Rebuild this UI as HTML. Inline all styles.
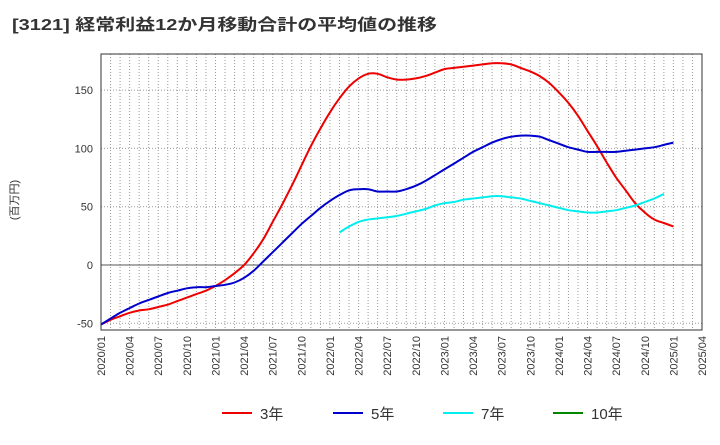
<!DOCTYPE html>
<html><head><meta charset="utf-8"><style>
body{margin:0;background:#fff;font-family:"Liberation Sans","Noto Sans CJK JP",sans-serif;}
svg text{font-family:"Liberation Sans","Noto Sans CJK JP",sans-serif;}
</style></head><body>
<svg id="c" width="720" height="440" xmlns="http://www.w3.org/2000/svg">
<text x="12" y="30" font-size="16" font-weight="bold" fill="#333" textLength="425" lengthAdjust="spacingAndGlyphs">[3121]  経常利益12か月移動合計の平均値の推移</text>
<text transform="translate(18,200) rotate(-90)" text-anchor="middle" font-size="11" fill="#333">(百万円)</text>
<g id="grid"></g><g id="series"></g><g id="axes"></g><g id="legend"></g>
</svg>
<script>
const yTicks=[-50,0,50,100,150];
const xTickLabels=["2020/01","2020/04","2020/07","2020/10","2021/01","2021/04","2021/07","2021/10","2022/01","2022/04","2022/07","2022/10","2023/01","2023/04","2023/07","2023/10","2024/01","2024/04","2024/07","2024/10","2025/01","2025/04"];
const s3=[-51,-47,-44,-41,-39,-38,-36,-34,-31,-28,-25,-22,-18,-13,-7,0,10,22,37,52,68,85,102,117,131,143,153,160,164,164,161,159,159,160,162,165,168,169,170,171,172,173,173,172,169,166,162,156,148,139,128,115,102,88,75,64,53,45,39,36,33];
const s5=[-51,-46,-41,-37,-33,-30,-27,-24,-22,-20,-19,-19,-18,-17,-15,-11,-5,3,11,19,27,35,42,49,55,60,64,65,65,63,63,63,65,68,72,77,82,87,92,97,101,105,108,110,111,111,110,107,104,101,99,97,97,97,97,98,99,100,101,103,105];
const s7start=25;
const s7=[28,33,37,39,40,41,42,44,46,48,51,53,54,56,57,58,59,59,58,57,55,53,51,49,47,46,45,45,46,47,49,51,54,57,61,61];
const L=101,R=702,T=54,B=330,NM=63;
const X=m=>L+(R-L)*m/NM;
const Y=v=>265-v*(58.3/50);
const NS="http://www.w3.org/2000/svg";
function mk(tag,attrs,parent,txt){const e=document.createElementNS(NS,tag);for(const k in attrs)e.setAttribute(k,attrs[k]);if(txt!==undefined)e.textContent=txt;document.getElementById(parent).appendChild(e);return e;}
for(let m=1;m<NM;m++){const g=mk('line',{x1:X(m),x2:X(m),y1:T,y2:B,stroke:'#999','stroke-dasharray':'1,2','stroke-width':1},'grid');

}
yTicks.forEach(v=>{const g=mk('line',{x1:L,x2:R,y1:Y(v),y2:Y(v),stroke:v===0?'#555':'#999','stroke-dasharray':v===0?'':'1,2','stroke-width':1},'grid');


const t=mk('text',{x:L-8,y:Y(v)+4,'text-anchor':'end','font-size':11,fill:'#333'},'axes',String(v));

});
xTickLabels.forEach((lab,i)=>{const x=X(i*3);const t=mk('text',{transform:`translate(${x+4},336) rotate(-90)`,'text-anchor':'end','font-size':11,fill:'#333'},'axes',lab);

});
const fr=mk('rect',{x:L,y:T,width:R-L,height:B-T,fill:'none',stroke:'#333','stroke-width':1},'axes');


function line(data,start,color,name){
const pts=data.map((v,i)=>[X(start+i),Y(v)]);
let d='M'+pts[0][0].toFixed(1)+','+pts[0][1].toFixed(1);
for(let i=0;i<pts.length-1;i++){const p0=pts[Math.max(0,i-1)],p1=pts[i],p2=pts[i+1],p3=pts[Math.min(pts.length-1,i+2)];
const c1=[p1[0]+(p2[0]-p0[0])/6,p1[1]+(p2[1]-p0[1])/6],c2=[p2[0]-(p3[0]-p1[0])/6,p2[1]-(p3[1]-p1[1])/6];
d+='C'+c1.map(n=>n.toFixed(1)).join(',')+' '+c2.map(n=>n.toFixed(1)).join(',')+' '+p2.map(n=>n.toFixed(1)).join(',');}
const p=mk('path',{d:d,fill:'none',stroke:color,'stroke-width':2},'series');

}
line(s3,0,'#e00','series-3y');
line(s5,0,'#00c','series-5y');
line(s7.slice(0,35),s7start,'#0ee','series-7y');
const leg=[['3年','#e00',222],['5年','#00c',333],['7年','#0ee',443],['10年','#080',553]];
leg.forEach(([n,c,x])=>{const l=mk('line',{x1:x,x2:x+30,y1:413,y2:413,stroke:c,'stroke-width':2},'legend');


const t=mk('text',{x:x+38,y:419,'font-size':15,fill:'#333'},'legend',n);

});
</script>
</body></html>
